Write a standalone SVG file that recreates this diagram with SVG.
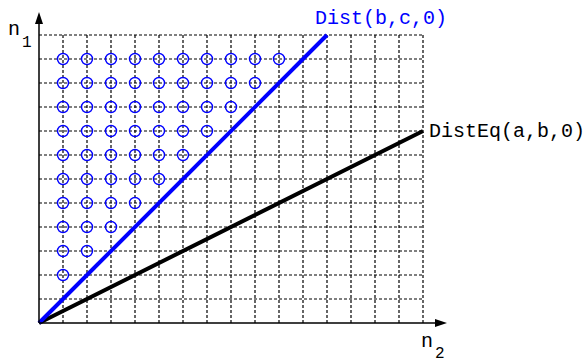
<svg xmlns="http://www.w3.org/2000/svg" xmlns:xlink="http://www.w3.org/1999/xlink" width="588" height="363" viewBox="0 0 588 363">
<style>
.grid{stroke:#000;stroke-width:1.2;stroke-dasharray:3 2;fill:none}
.pt{fill:none;stroke:#0000ff;stroke-width:1.4}
.axis{stroke:#000;stroke-width:1.5;fill:none}
.lbl{font-family:"Liberation Mono","Courier New",monospace;font-size:20px}
.sub{font-family:"Liberation Mono","Courier New",monospace;font-size:16px}
</style>
<defs>
<circle id="c" r="5.5" class="pt"/>
</defs>
<rect width="588" height="363" fill="#fff"/>
<g id="grid">
<path class="grid" d="M39 299H423M39 275H423M39 251H423M39 227H423M39 203H423M39 179H423M39 155H423M39 131H423M39 107H423M39 83H423M39 59H423M39 35H423"/>
<path class="grid" d="M63 323V35M87 323V35M111 323V35M135 323V35M159 323V35M183 323V35M207 323V35M231 323V35M255 323V35M279 323V35M303 323V35M327 323V35M351 323V35M375 323V35M399 323V35M423 323V35"/>
</g>
<g id="points">
<use xlink:href="#c" x="63" y="275"/>
<use xlink:href="#c" x="63" y="251"/><use xlink:href="#c" x="87" y="251"/>
<use xlink:href="#c" x="63" y="227"/><use xlink:href="#c" x="87" y="227"/><use xlink:href="#c" x="111" y="227"/>
<use xlink:href="#c" x="63" y="203"/><use xlink:href="#c" x="87" y="203"/><use xlink:href="#c" x="111" y="203"/><use xlink:href="#c" x="135" y="203"/>
<use xlink:href="#c" x="63" y="179"/><use xlink:href="#c" x="87" y="179"/><use xlink:href="#c" x="111" y="179"/><use xlink:href="#c" x="135" y="179"/><use xlink:href="#c" x="159" y="179"/>
<use xlink:href="#c" x="63" y="155"/><use xlink:href="#c" x="87" y="155"/><use xlink:href="#c" x="111" y="155"/><use xlink:href="#c" x="135" y="155"/><use xlink:href="#c" x="159" y="155"/><use xlink:href="#c" x="183" y="155"/>
<use xlink:href="#c" x="63" y="131"/><use xlink:href="#c" x="87" y="131"/><use xlink:href="#c" x="111" y="131"/><use xlink:href="#c" x="135" y="131"/><use xlink:href="#c" x="159" y="131"/><use xlink:href="#c" x="183" y="131"/><use xlink:href="#c" x="207" y="131"/>
<use xlink:href="#c" x="63" y="107"/><use xlink:href="#c" x="87" y="107"/><use xlink:href="#c" x="111" y="107"/><use xlink:href="#c" x="135" y="107"/><use xlink:href="#c" x="159" y="107"/><use xlink:href="#c" x="183" y="107"/><use xlink:href="#c" x="207" y="107"/><use xlink:href="#c" x="231" y="107"/>
<use xlink:href="#c" x="63" y="83"/><use xlink:href="#c" x="87" y="83"/><use xlink:href="#c" x="111" y="83"/><use xlink:href="#c" x="135" y="83"/><use xlink:href="#c" x="159" y="83"/><use xlink:href="#c" x="183" y="83"/><use xlink:href="#c" x="207" y="83"/><use xlink:href="#c" x="231" y="83"/><use xlink:href="#c" x="255" y="83"/>
<use xlink:href="#c" x="63" y="59"/><use xlink:href="#c" x="87" y="59"/><use xlink:href="#c" x="111" y="59"/><use xlink:href="#c" x="135" y="59"/><use xlink:href="#c" x="159" y="59"/><use xlink:href="#c" x="183" y="59"/><use xlink:href="#c" x="207" y="59"/><use xlink:href="#c" x="231" y="59"/><use xlink:href="#c" x="255" y="59"/><use xlink:href="#c" x="279" y="59"/>
</g>
<g id="lines">
<line x1="39" y1="323" x2="423" y2="131" stroke="#000" stroke-width="4"/>
<line x1="39" y1="323" x2="327" y2="35" stroke="#0000ff" stroke-width="4"/>
</g>
<g id="axes">
<path class="axis" d="M39 323V22M39 323H436"/>
<path d="M35 24L39 12L43 24Z" fill="#000"/>
<path d="M435 319L447 323L435 327Z" fill="#000"/>
</g>
<g id="labels">
<text class="lbl" x="8" y="35">n</text><text class="sub" x="22" y="47">1</text>
<text class="lbl" x="421" y="347">n</text><text class="sub" x="435" y="358">2</text>
<text class="lbl" x="315" y="24" fill="#0000ff">Dist(b,c,0)</text>
<text class="lbl" x="429" y="137">DistEq(a,b,0)</text>
</g>
</svg>
